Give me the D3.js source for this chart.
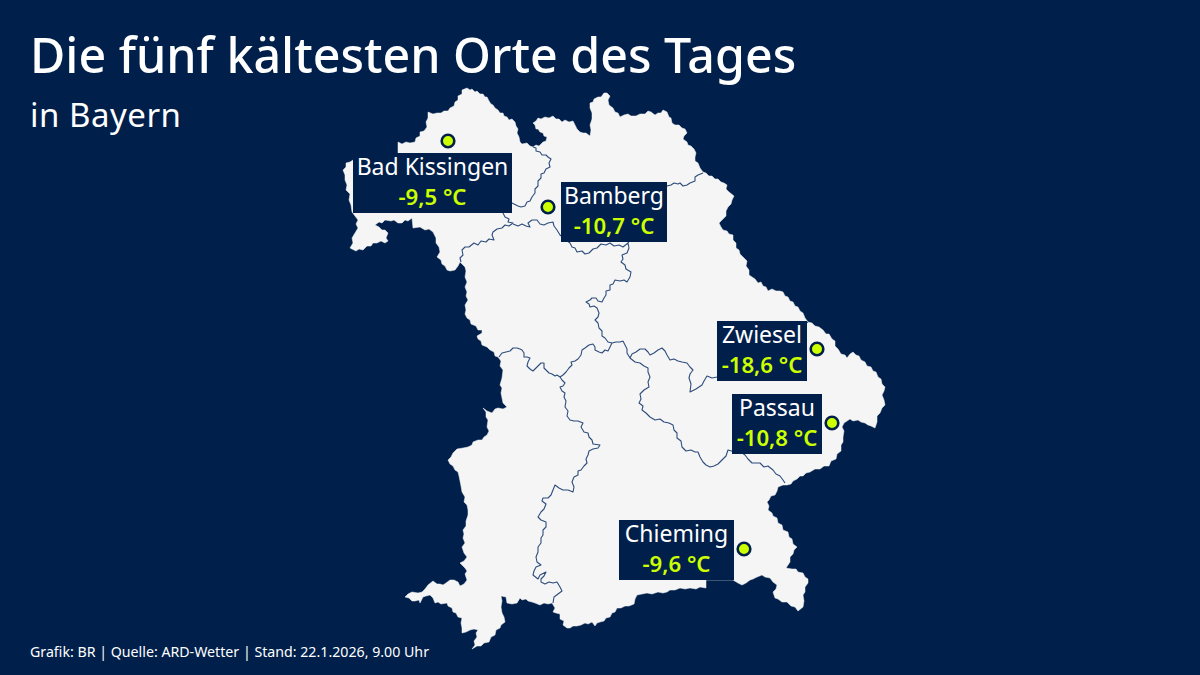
<!DOCTYPE html>
<html>
<head>
<meta charset="utf-8">
<script src="https://d3js.org/d3.v7.min.js"></script>
<style>
  html, body { margin: 0; padding: 0; background: #00204b; }
  svg { display: block; }
  text { font-family: "Noto Sans", sans-serif; }
</style>
</head>
<body>
<div id="chart"></div>
<script>
// places and temperatures
var places = ["Bad Kissingen", "Bamberg", "Zwiesel", "Passau", "Chieming"];
var temperatures = ["-9,5 °C", "-10,7 °C", "-18,6 °C", "-10,8 °C", "-9,6 °C"];
var placeCoords = [[448, 141], [548, 207], [817, 349], [832, 423], [744, 549]];

var titleText = "Die fünf kältesten Orte des Tages";
var subtitleText = "in Bayern";
var sourceText = "Grafik: BR | Quelle: ARD-Wetter | Stand: 22.1.2026, 9.00 Uhr";

// outline of Bavaria (map units)
var outline = [
  [467,88],[470,90],[472,89],[475,92],[477,91],[480,94],[483,94],[485,97],[487,97],[489,101],[491,104],[493,105],[495,108],[498,110],[500,113],[503,113],[504,116],[507,117],[509,120],[512,119],[515,122],[516,126],[518,129],[517,133],[519,137],[520,142],
  [522,144],[527,143],[530,146],[533,147],[536,145],[539,146],[543,142],[546,141],[547,137],[544,136],[543,133],[540,132],[538,129],[536,129],[535,125],[533,123],[536,121],[538,118],[541,119],[545,117],[549,118],[553,116],[556,119],[559,119],
  [562,122],[565,120],[569,122],[573,121],[575,125],[577,129],[580,132],[583,133],[586,133],[590,136],[591,130],[590,125],[592,119],[592,113],[590,108],[590,103],[593,102],[594,99],[598,97],[601,97],[604,93],[607,93],[610,96],[608,100],[609,105],
  [613,108],[615,112],[618,113],[620,117],[624,115],[628,114],[631,116],[636,116],[640,114],[645,114],[648,111],[651,112],[655,115],[658,113],[661,113],[663,110],[667,112],[669,117],[671,118],[672,123],[675,125],[679,125],
  [682,128],[685,129],[687,133],[684,136],[683,139],[687,142],[688,145],[691,146],[694,149],[696,153],[695,157],[695,161],[698,163],[700,168],[703,172],[706,173],[709,176],[712,176],[715,179],[718,179],[721,182],[724,183],[727,185],[726,189],[729,192],[734,196],
  [732,200],[731,204],[728,207],[726,211],[726,216],[722,220],[719,223],[721,227],[723,230],[727,231],[729,234],[733,235],[733,240],[736,243],[736,248],[739,250],[740,254],[743,257],[747,261],[746,266],[749,270],[749,275],[752,277],[755,279],[758,283],[761,282],
  [763,286],[766,287],[768,291],[772,289],[776,291],[780,291],[783,292],[785,296],[788,297],[790,301],[793,302],[795,306],[798,307],[800,311],[803,313],[805,318],[808,322],[812,323],[815,326],[819,327],[823,330],[826,334],[829,334],[832,339],[835,341],[835,346],[838,349],[841,354],
  [845,355],[847,358],[850,354],[853,352],[856,355],[859,356],[861,360],[865,362],[867,366],[871,367],[873,371],[876,372],[878,377],[881,379],[882,384],[885,387],[884,391],[882,395],[884,400],[885,405],[882,408],[880,413],[877,416],[877,422],[875,428],
  [871,426],[868,425],[865,423],[861,422],[858,420],[853,421],[850,419],[847,421],[844,423],[842,427],[844,431],[843,437],[843,442],[841,445],[841,451],[837,454],[836,459],[831,461],[829,466],[824,466],[820,469],[815,469],[810,472],[806,473],[803,476],[800,476],[797,479],
  [793,481],[791,484],[787,485],[783,485],[778,487],[777,491],[775,495],[771,496],[769,500],[767,502],[769,506],[768,510],[772,513],[773,516],[777,518],[778,523],[782,525],[783,530],[788,532],[789,537],[792,539],[793,544],[797,547],[794,550],[793,554],
  [790,557],[790,562],[786,568],[792,569],[796,569],[798,572],[803,573],[805,577],[808,579],[808,583],[805,587],[805,592],[803,595],[804,601],[803,607],[798,611],[795,607],[791,606],[787,602],[782,602],[778,599],[775,598],
  [773,592],[776,589],[777,585],[773,582],[770,578],[765,577],[762,575],[757,577],[753,579],[750,580],[746,583],[742,585],[738,583],[733,580],[706,580],[706,588],[700,587],[696,589],[690,588],
  [685,589],[680,588],[675,590],[670,590],[667,592],[663,593],[658,592],[652,594],[647,593],[642,594],[637,595],[635,599],[634,604],[629,606],[625,606],[621,608],[617,608],[615,612],[612,613],[610,617],[606,618],[604,621],[600,622],[597,623],[595,626],
  [592,622],[588,624],[585,623],[581,625],[577,626],[573,626],[570,628],[567,628],[563,625],[564,621],[560,619],[560,614],[556,613],[553,612],[555,608],[552,603],[548,604],[544,603],[540,605],[535,603],[532,602],[528,601],[526,599],[522,600],[520,598],
  [517,603],[512,604],[507,603],[506,597],[501,596],[502,601],[501,607],[502,613],[504,617],[505,622],[501,625],[500,628],[496,630],[495,635],[491,637],[489,642],[484,643],[481,646],[477,646],[472,649],[475,645],
  [474,641],[477,637],[476,633],[478,630],[474,629],[470,630],[466,632],[462,633],[462,628],[461,623],[462,618],[458,617],[456,613],[453,612],[452,608],[448,606],[447,603],[441,604],[438,602],[435,603],[433,598],[430,595],[426,596],[423,597],
  [420,603],[419,600],[415,601],[412,601],[409,598],[405,597],[408,594],[412,592],[418,593],[422,592],[425,589],[428,585],[433,581],[437,584],[440,584],[443,585],[446,583],[450,580],[454,580],[458,582],[460,586],
  [464,584],[467,580],[465,574],[467,571],[465,568],[460,563],[464,561],[467,557],[464,553],[462,547],[465,543],[463,538],[464,534],[463,530],[466,526],[466,521],[468,515],[468,510],[467,505],[464,502],[465,497],[462,492],[461,486],[460,481],
  [459,476],[458,472],[455,470],[453,466],[450,464],[448,460],[451,457],[453,453],[457,449],[463,448],[468,447],[472,445],[473,442],[478,440],[482,440],[484,437],[487,435],[489,431],[487,427],[488,420],[486,417],[486,412],[483,408],[487,411],[492,413],
  [495,409],[498,408],[503,409],[507,407],[503,403],[502,398],[501,393],[502,388],[500,385],[502,378],[503,370],[500,366],[501,361],[498,357],[495,356],[494,352],[490,350],[487,347],[482,345],[481,341],[478,339],[477,336],[482,333],[482,330],[478,330],[476,326],
  [471,324],[470,320],[467,318],[465,314],[466,310],[465,305],[468,300],[466,296],[467,292],[465,287],[467,282],[465,277],[466,271],[465,267],[460,262],[458,266],[455,270],[450,271],[447,270],[445,266],[442,264],[441,260],[437,257],[440,252],[439,247],[436,243],[436,238],
  [433,232],[429,229],[425,230],[420,227],[413,228],[412,218],[408,221],[405,220],[402,223],[398,223],[394,220],[391,221],[385,220],[382,223],[379,222],[375,225],[379,227],[382,230],[385,230],[388,233],[386,238],[388,241],[385,243],[381,241],[377,243],[373,243],
  [371,246],[367,246],[363,250],[359,249],[356,251],[350,248],[353,243],[352,238],[355,233],[358,228],[356,224],[358,220],[352,212],[351,205],[349,200],[350,194],[346,190],[347,185],[345,180],[345,175],[343,170],[346,167],[346,163],[350,162],[353,160],
  [398,155],[398,142],[402,144],[406,142],[410,143],[415,142],[416,138],[420,136],[420,132],[424,131],[427,127],[426,122],[428,118],[428,112],[433,114],[437,113],[441,113],[444,111],[448,111],[450,108],[454,106],[455,102],[458,100],[458,96],[462,94],[462,90]
];

// district borders inside the state, same map units
var districtBorders = [
  [[533,147],[536,148],[536,151],[540,152],[542,155],[546,155],[548,157],[551,159],[549,163],[550,167],[546,169],[544,173],[541,174],[541,178],[538,181],[538,186],[535,189],[535,193],[532,197],[530,201],[527,202],[525,206],[521,207],[518,206],[514,204],[512,203],[506,208],[503,213],[505,217],[509,219],[508,222],[513,223],[509,226],[505,225],[502,228],[497,229],[493,232],[492,235],[494,240],[489,239],[486,242],[481,241],[478,245],[474,243],[469,247],[465,247],[462,250],[463,255],[460,258],[461,262]],
  [[513,224],[518,226],[522,224],[526,226],[530,227],[528,223],[532,220],[537,220],[540,224],[544,225],[548,223],[553,222],[554,226],[557,230],[560,235],[566,240],[570,243],[572,247],[575,248],[577,252],[582,251],[585,254],[589,253],[593,249],[597,248],[601,244],[606,245],[610,243],[614,246],[619,245],[623,247],[628,243]],
  [[628,243],[640,225],[667,186],[671,185],[674,183],[678,184],[680,183],[683,186],[687,185],[690,183],[695,181],[695,177],[698,175],[703,173]],
  [[628,243],[629,248],[627,253],[622,255],[623,259],[621,262],[625,265],[626,269],[631,272],[630,277],[627,282],[624,280],[620,281],[615,280],[613,284],[610,285],[610,290],[606,291],[606,295],[604,298],[602,302],[598,301],[596,298],[592,298],[590,300],[586,302],[589,304],[590,307],[594,306],[597,308],[599,313],[598,317],[595,320],[598,323],[599,328],[602,331],[602,336],[605,338],[608,342],[612,343],[616,342],[620,342],[623,341]],
  [[499,357],[502,353],[506,352],[510,351],[513,348],[517,348],[520,349],[522,350],[524,353],[524,357],[527,357],[530,358],[528,362],[527,366],[530,369],[533,371],[536,368],[539,365],[541,363],[544,363],[544,368],[546,370],[549,373],[552,374],[555,376],[557,375],[560,377]],
  [[560,377],[563,375],[566,372],[569,368],[572,365],[571,362],[575,361],[578,359],[581,355],[582,350],[585,348],[589,345],[593,344],[595,347],[595,350],[599,352],[602,353],[605,350],[608,351],[610,347],[612,343]],
  [[560,377],[562,380],[565,383],[563,386],[560,387],[562,391],[565,393],[564,397],[566,401],[565,407],[568,411],[567,416],[570,420],[574,421],[578,421],[583,423],[581,427],[584,432],[588,433],[589,437],[592,440],[593,444],[600,445],[598,448],[593,449],[589,451],[588,455],[586,459],[587,463],[584,466],[581,470],[578,471],[578,475],[574,477],[572,482],[574,487],[573,492],[568,490],[563,490],[559,488],[555,485],[553,490],[551,495],[548,498],[543,498],[542,501],[546,504],[544,509],[541,512],[538,517],[541,520],[546,522],[546,527],[543,530],[543,535],[541,538],[541,543],[538,547],[538,552],[536,557],[537,562],[541,565],[536,567],[534,571],[533,575],[538,579],[540,575],[546,572],[544,576],[541,579],[541,582],[545,584],[549,582],[553,583],[557,582],[560,587],[562,591],[558,594],[554,597],[553,603]],
  [[623,341],[625,345],[627,349],[627,353],[630,358],[632,354],[636,352],[640,349],[645,349],[648,352],[650,355],[654,353],[658,350],[662,348],[665,351],[667,355],[670,360],[674,359],[678,361],[682,362],[687,363],[690,367],[693,370],[690,374],[689,378],[691,384],[690,392],[696,389],[702,385],[704,381],[707,376],[712,378],[717,377],[760,350],[808,322]],
  [[630,358],[635,362],[640,363],[644,366],[648,368],[648,372],[650,377],[648,382],[649,387],[644,390],[640,394],[641,399],[639,403],[643,406],[642,410],[646,413],[650,417],[655,420],[660,419],[664,422],[669,423],[673,425],[674,430],[677,433],[677,438],[681,441],[682,447],[686,451],[691,450],[695,452],[698,452],[700,457],[703,462],[706,465],[710,467],[714,466],[718,464],[722,460],[726,456],[728,450],[735,452],[741,452],[745,455],[748,459],[752,463],[756,463],[760,463],[764,467],[768,466],[773,470],[776,474],[780,476],[783,480],[785,483]]
];

// label boxes, x / y / width / height in the picture
var labelBoxes = [
  [353, 153, 159, 60],
  [561, 182, 106, 60],
  [717, 321, 90, 60],
  [732, 394, 90, 60],
  [619, 520, 115, 60]
];

var svgWidth = 1200;
var svgHeight = 675;

var svg = d3.select("#chart")
  .append("svg")
  .attr("width", svgWidth)
  .attr("height", svgHeight);

svg.append("rect")
  .attr("width", svgWidth)
  .attr("height", svgHeight)
  .attr("fill", "#00204b");

// map
var stateShape = { type: "Polygon", coordinates: [outline.concat([outline[0]])] };
var borderShape = { type: "MultiLineString", coordinates: districtBorders };

var projection = d3.geoIdentity().fitExtent([[343, 88], [885, 649]], stateShape);
var path = d3.geoPath(projection);

svg.append("path")
  .attr("d", path(stateShape))
  .attr("fill", "#f5f5f5")
  .attr("stroke", "#f5f5f5")
  .attr("stroke-width", 0.5)
  .attr("stroke-linejoin", "round");

svg.append("path")
  .attr("d", path(borderShape))
  .attr("fill", "none")
  .attr("stroke", "#2c4c7c")
  .attr("stroke-width", 1.1)
  .attr("stroke-linejoin", "round");

// dots
svg.append("g")
  .selectAll("circle")
  .data(placeCoords)
  .enter()
  .append("circle")
  .attr("cx", d => projection(d)[0])
  .attr("cy", d => projection(d)[1])
  .attr("r", 6.3)
  .attr("fill", "#ccff00")
  .attr("stroke", "#00204b")
  .attr("stroke-width", 2.6);

// labels
var labels = svg.append("g")
  .selectAll("g")
  .data(places)
  .enter()
  .append("g");

labels.append("rect")
  .attr("x", (d, i) => labelBoxes[i][0])
  .attr("y", (d, i) => labelBoxes[i][1])
  .attr("width", (d, i) => labelBoxes[i][2])
  .attr("height", (d, i) => labelBoxes[i][3])
  .attr("fill", "#00204b");

labels.append("text")
  .attr("x", (d, i) => labelBoxes[i][0] + labelBoxes[i][2] / 2)
  .attr("y", (d, i) => labelBoxes[i][1] + 22)
  .attr("text-anchor", "middle")
  .attr("font-size", 23)
  .attr("fill", "#ffffff")
  .text(d => d);

labels.append("text")
  .attr("x", (d, i) => labelBoxes[i][0] + labelBoxes[i][2] / 2)
  .attr("y", (d, i) => labelBoxes[i][1] + 52)
  .attr("text-anchor", "middle")
  .attr("font-size", 22.2)
  .attr("font-weight", 600)
  .attr("fill", "#ccff00")
  .text((d, i) => temperatures[i]);

// title block
svg.append("text")
  .attr("x", 30)
  .attr("y", 73)
  .attr("font-size", 48.35)
  .attr("font-weight", 500)
  .attr("fill", "#ffffff")
  .text(titleText);

svg.append("text")
  .attr("x", 30)
  .attr("y", 127)
  .attr("font-size", 33)
  .attr("letter-spacing", 0.5)
  .attr("fill", "#ffffff")
  .text(subtitleText);

svg.append("text")
  .attr("x", 30)
  .attr("y", 657)
  .attr("font-size", 14.2)
  .attr("fill", "#ffffff")
  .text(sourceText);
</script>
</body>
</html>
